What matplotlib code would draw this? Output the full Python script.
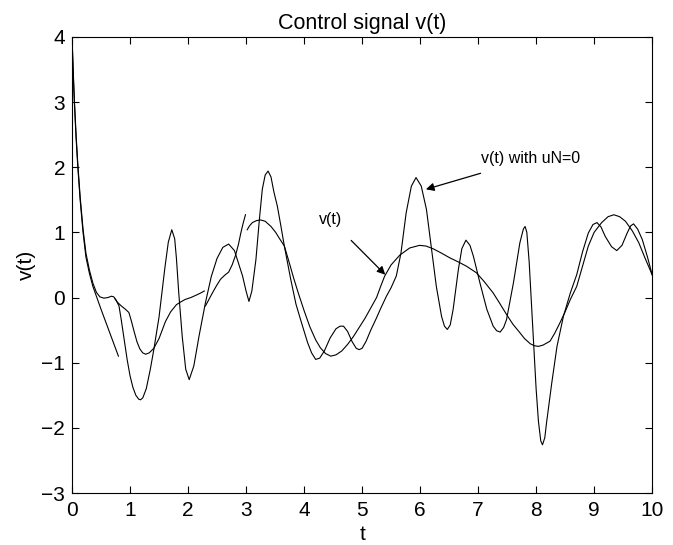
import matplotlib
matplotlib.use("Agg")
import matplotlib.pyplot as plt

plt.rcParams['font.family'] = ['Liberation Sans', 'DejaVu Sans']

# ---- v(t) with uN=0 (oscillating curve) ----
t_uN0 = [0.0, 0.02, 0.04, 0.07, 0.1, 0.14, 0.19, 0.24, 0.3, 0.36, 0.42, 0.48, 0.55, 0.62,
         0.68, 0.72, 0.76, 0.81, 0.85, 0.9, 0.95, 1.0, 1.05, 1.1, 1.15, 1.18, 1.22, 1.28,
         1.35, 1.41, 1.5, 1.6, 1.66, 1.72, 1.77, 1.8, 1.84, 1.9, 1.96, 2.02, 2.1, 2.19,
         2.3, 2.4, 2.5, 2.6, 2.7, 2.8, 2.88, 2.94, 3.0, 3.05, 3.1, 3.17, 3.23, 3.28, 3.33,
         3.38, 3.43, 3.48, 3.54, 3.6, 3.66, 3.77, 3.86, 3.94, 4.06, 4.13, 4.2, 4.27, 4.35,
         4.45, 4.55, 4.62, 4.68, 4.75, 4.83, 4.9, 4.95, 5.0, 5.07, 5.15, 5.24, 5.33, 5.42,
         5.5, 5.59, 5.67, 5.76, 5.85, 5.93, 6.02, 6.11, 6.19, 6.28, 6.37, 6.42, 6.47, 6.52,
         6.57, 6.66, 6.72, 6.79, 6.86, 6.92, 7.03, 7.15, 7.26, 7.32, 7.38, 7.44, 7.49, 7.61,
         7.72, 7.78, 7.81, 7.84, 7.88, 7.92, 7.96, 8.0, 8.04, 8.08, 8.11, 8.15, 8.18, 8.27,
         8.36, 8.47, 8.59, 8.7, 8.8, 8.9, 8.98, 9.05, 9.12, 9.19, 9.3, 9.39, 9.48, 9.57,
         9.63, 9.68, 9.75, 9.83, 9.92, 10.0]
v_uN0 = [4.0, 3.5, 3.05, 2.5, 2.05, 1.55, 1.05, 0.68, 0.42, 0.22, 0.08, 0.01, -0.01, 0.0,
         0.02, 0.01, -0.04, -0.13, -0.35, -0.65, -0.95, -1.2, -1.38, -1.5, -1.56, -1.57, -1.54, -1.4,
         -1.1, -0.8, -0.3, 0.45, 0.85, 1.04, 0.9, 0.6, 0.07, -0.6, -1.1, -1.26, -1.05, -0.59,
         -0.08, 0.32, 0.6, 0.77, 0.82, 0.72, 0.5, 0.33, 0.1, -0.06, 0.1, 0.58, 1.2, 1.66, 1.88,
         1.94, 1.85, 1.62, 1.4, 1.1, 0.79, 0.28, -0.1, -0.34, -0.69, -0.85, -0.95, -0.93, -0.82,
         -0.62, -0.48, -0.44, -0.44, -0.52, -0.68, -0.78, -0.8, -0.78, -0.67, -0.5, -0.33, -0.15, 0.02,
         0.15, 0.33, 0.68, 1.3, 1.71, 1.84, 1.71, 1.35, 0.79, 0.17, -0.29, -0.44, -0.49, -0.42,
         -0.18, 0.43, 0.75, 0.88, 0.8, 0.63, 0.23, -0.18, -0.44, -0.51, -0.53, -0.46, -0.34, 0.23,
         0.84, 1.05, 1.09, 1.0, 0.55, -0.1, -0.75, -1.4, -1.9, -2.2, -2.26, -2.15, -1.92, -1.31,
         -0.75, -0.29, 0.07, 0.35, 0.7, 0.99, 1.12, 1.15, 1.08, 0.94, 0.78, 0.72, 0.8, 0.99,
         1.1, 1.13, 1.05, 0.89, 0.62, 0.35]

# ---- v(t) (piecewise smooth curve) ----
t_v1 = [0.0, 0.02, 0.04, 0.07, 0.1, 0.14, 0.19, 0.24, 0.3, 0.36, 0.42, 0.5, 0.6, 0.7, 0.8]
v_v1 = [4.0, 3.45, 3.0, 2.45, 2.0, 1.5, 1.0, 0.62, 0.37, 0.17, 0.02, -0.18, -0.42, -0.66, -0.9]

t_v2 = [0.74, 0.78, 0.85, 0.92, 0.98, 1.02, 1.07, 1.12, 1.17, 1.22, 1.27, 1.33, 1.41, 1.5,
        1.61, 1.7, 1.8, 1.87, 1.95, 2.05, 2.15, 2.22, 2.28]
v_v2 = [-0.02, -0.07, -0.13, -0.18, -0.23, -0.35, -0.52, -0.68, -0.79, -0.85, -0.87, -0.85, -0.78, -0.63,
        -0.37, -0.22, -0.11, -0.07, -0.03, 0.0, 0.04, 0.07, 0.1]

t_v3 = [2.3, 2.36, 2.42, 2.49, 2.56, 2.63, 2.7, 2.76, 2.82, 2.87, 2.91, 2.95, 2.99]
v_v3 = [-0.13, -0.03, 0.07, 0.18, 0.28, 0.34, 0.39, 0.5, 0.65, 0.82, 0.99, 1.14, 1.27]

t_v4 = [3.02, 3.06, 3.11, 3.18, 3.25, 3.33, 3.43, 3.51, 3.58, 3.66, 3.74, 3.82, 3.9, 4.0,
        4.1, 4.2, 4.28, 4.37, 4.46, 4.55, 4.65, 4.75, 4.85, 4.95, 5.05, 5.15, 5.25, 5.32,
        5.39, 5.5, 5.65, 5.82, 5.99, 6.1, 6.22, 6.35, 6.51, 6.65, 6.8, 6.97, 7.1, 7.26,
        7.38, 7.49, 7.6, 7.72, 7.8, 7.9, 7.97, 8.04, 8.12, 8.24, 8.32, 8.41, 8.5, 8.59,
        8.7, 8.8, 8.9, 9.0, 9.13, 9.24, 9.34, 9.44, 9.54, 9.66, 9.77, 9.88, 10.0]
v_v4 = [1.04, 1.1, 1.15, 1.18, 1.19, 1.17, 1.09, 1.0, 0.9, 0.79, 0.55, 0.3, 0.07, -0.2,
        -0.45, -0.65, -0.77, -0.86, -0.9, -0.88, -0.82, -0.72, -0.6, -0.46, -0.32, -0.16, 0.0, 0.17,
        0.33, 0.5, 0.65, 0.76, 0.8, 0.79, 0.75, 0.69, 0.61, 0.55, 0.48, 0.38, 0.25, 0.07,
        -0.1, -0.26, -0.41, -0.54, -0.63, -0.71, -0.74, -0.75, -0.73, -0.67, -0.55, -0.39, -0.22, -0.03,
        0.17, 0.48, 0.79, 1.0, 1.15, 1.24, 1.27, 1.24, 1.17, 1.02, 0.84, 0.6, 0.35]

x_ticks = [0, 1, 2, 3, 4, 5, 6, 7, 8, 9, 10]
y_ticks = [-3, -2, -1, 0, 1, 2, 3, 4]

fig = plt.figure(figsize=(6.73, 5.45), dpi=100)
ax = fig.add_axes([0.107, 0.0954, 0.862, 0.837])

lw = 0.8
ax.plot(t_uN0, v_uN0, color='black', lw=lw)
for tt, vv in [(t_v1, v_v1), (t_v2, v_v2), (t_v3, v_v3), (t_v4, v_v4)]:
    ax.plot(tt, vv, color='black', lw=lw)

ax.set_xlim(0, 10)
ax.set_ylim(-3, 4)
ax.set_xticks(x_ticks)
ax.set_yticks(y_ticks)
ax.tick_params(direction='in', top=True, right=True, labelsize=15, length=5, width=0.8)
ax.tick_params(axis='x', pad=6)
ax.tick_params(axis='y', pad=5)
for s in ax.spines.values():
    s.set_linewidth(0.8)

ax.set_title('Control signal v(t)', fontsize=15.5, pad=6)
ax.set_xlabel('t', fontsize=15, labelpad=3)
ax.set_ylabel('v(t)', fontsize=15, labelpad=4)

ax.annotate('v(t) with uN=0', xy=(6.1, 1.66), xytext=(7.9, 2.13),
            fontsize=11.5, ha='center', va='center',
            arrowprops=dict(arrowstyle='-|>', color='black', lw=0.9,
                            shrinkA=11, shrinkB=0, mutation_scale=12))
ax.annotate('v(t)', xy=(5.4, 0.35), xytext=(4.45, 1.2),
            fontsize=11.5, ha='center', va='center',
            arrowprops=dict(arrowstyle='-|>', color='black', lw=0.9,
                            shrinkA=11, shrinkB=0, mutation_scale=12))

fig.savefig('out.png', dpi=100)
